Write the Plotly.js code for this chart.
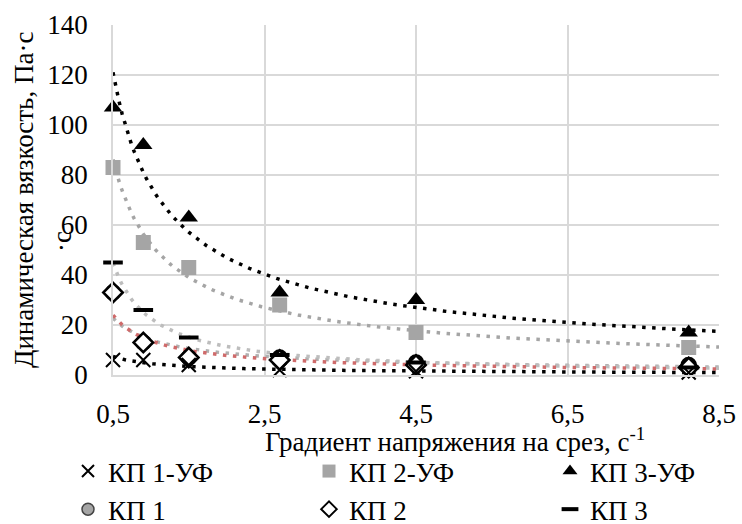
<!DOCTYPE html>
<html>
<head>
<meta charset="utf-8">
<script src="https://cdn.plot.ly/plotly-3.0.1.min.js"></script>
<style>
html,body{margin:0;padding:0;background:#fff;}
#chart{width:742px;height:524px;}
</style>
</head>
<body>
<div id="chart"></div>
<script>
// ---- data ----
var shearRate = [0.5, 0.9, 1.5, 2.7, 4.5, 8.1];
var kp1uf = [6, 6, 4, 2, 1.5, 1];
var kp2uf = [83, 53, 43, 28, 17, 11];
var kp3uf = [107, 92, 63, 33, 30, 17];
var kp1 = [33, 13, 7, 7, 5, 4];
var kp2 = [33, 13, 7, 6, 4, 3];
var kp3 = [45, 26, 15, 8, 5, 3];
var seriesNames = ["КП 1-УФ", "КП 2-УФ", "КП 3-УФ", "КП 1", "КП 2", "КП 3"];
var xTicks = [0.5, 2.5, 4.5, 6.5, 8.5];
var yTicks = [0, 20, 40, 60, 80, 100, 120, 140];

// ---- power trendline (least squares on log-log) ----
function powerFit(xs, ys) {
  var lx = xs.map(Math.log), ly = ys.map(Math.log);
  var n = xs.length, mx = 0, my = 0;
  for (var i = 0; i < n; i++) { mx += lx[i]; my += ly[i]; }
  mx /= n; my /= n;
  var sxy = 0, sxx = 0;
  for (var j = 0; j < n; j++) { sxy += (lx[j]-mx)*(ly[j]-my); sxx += (lx[j]-mx)*(lx[j]-mx); }
  var b = sxy / sxx, a = Math.exp(my - b*mx);
  var tx = [], ty = [];
  var x0 = xTicks[0], x1 = xTicks[xTicks.length-1];
  for (var k = 0; k <= 200; k++) { var x = x0 + (x1-x0)*k/200; tx.push(x); ty.push(a*Math.pow(x, b)); }
  return {x: tx, y: ty};
}

var GREY = '#a5a5a5';
var ser = [kp1uf, kp2uf, kp3uf, kp1, kp2, kp3];
var trendColors = ['#000000', GREY, '#000000', '#b0b0b0', '#cf6a6a', '#bdbdbd'];
var markers = [
  {symbol: 'x-thin-open', size: 14, color: '#000', line: {color: '#000', width: 2}},
  {symbol: 'square', size: 15, color: GREY, line: {width: 0}},
  {symbol: 'triangle-up', size: 16, color: '#000', line: {width: 0}},
  {symbol: 'circle', size: 14, color: GREY, line: {color: '#000', width: 2.5}},
  {symbol: 'diamond', size: 15, color: '#fff', line: {color: '#000', width: 2.5}},
  {symbol: 'line-ew-open', size: 14, color: '#000', line: {color: '#000', width: 4}}
];
var legendMarkers = [
  {symbol: 'x-thin-open', size: 12, color: '#000', line: {color: '#000', width: 2}},
  {symbol: 'square', size: 13, color: GREY, line: {width: 0}},
  {symbol: 'triangle-up', size: 13, color: '#000', line: {width: 0}},
  {symbol: 'circle', size: 12, color: GREY, line: {color: '#444', width: 1.5}},
  {symbol: 'diamond', size: 12, color: '#fff', line: {color: '#000', width: 2}},
  {symbol: 'line-ew-open', size: 12, color: '#000', line: {color: '#000', width: 4}}
];

var traces = [];
var order = [3, 4, 5, 0, 1, 2];
order.forEach(function (i) {
  var f = powerFit(shearRate, ser[i]);
  traces.push({x: f.x, y: f.y, type: 'scatter', mode: 'lines', showlegend: false, hoverinfo: 'skip',
    line: {color: trendColors[i], width: 3.5, dash: '3.5px,6.5px'}});
});
order.forEach(function (i) {
  traces.push({x: shearRate, y: ser[i], type: 'scatter', mode: 'markers', showlegend: false,
    cliponaxis: false, marker: markers[i], name: seriesNames[i]});
});
for (var i = 0; i < 6; i++) {
  traces.push({x: [null], y: [null], type: 'scatter', mode: 'markers', name: seriesNames[i],
    marker: legendMarkers[i], showlegend: true});
}

var FAM = 'Liberation Serif';
var FS = 27;
function F() { return {family: FAM, size: FS, color: '#000000'}; }
var layout = {
  width: 742, height: 524,
  paper_bgcolor: '#fff', plot_bgcolor: '#fff',
  margin: {l: 113, r: 23, t: 25, b: 149, autoexpand: false},
  font: F(),
  showlegend: true,
  xaxis: {range: [0.5, 8.5], tickvals: xTicks, ticktext: xTicks.map(function(v){return String(v).replace('.', ',');}),
    showgrid: true, gridcolor: '#d9d9d9', gridwidth: 1.5, zeroline: false,
    showline: true, linecolor: '#d9d9d9', linewidth: 1.5, ticks: 'outside', ticklen: 14, tickcolor: 'rgba(0,0,0,0)',
    tickfont: F(), automargin: false},
  yaxis: {range: [0, 140], tickvals: yTicks, showgrid: true, gridcolor: '#d9d9d9', gridwidth: 1.5,
    zeroline: false, showline: true, linecolor: '#d9d9d9', linewidth: 1.5, ticks: 'outside', ticklen: 18,
    tickcolor: 'rgba(0,0,0,0)', tickfont: F(), automargin: false},
  legend: {orientation: 'h', xref: 'paper', yref: 'paper', x: (68-113)/606, y: (375-447)/350, xanchor: 'left', yanchor: 'top',
    entrywidth: 196, entrywidthmode: 'pixels', font: F(), tracegroupgap: 0, itemsizing: 'trace',
    bgcolor: 'rgba(0,0,0,0)'},
  annotations: [
    {text: 'Динамическая вязкость, Па·с', xref: 'paper', yref: 'paper', x: (24-113)/606, y: 0.5,
      xanchor: 'center', yanchor: 'middle', textangle: -90, showarrow: false, font: F()},
    {text: '·с', xref: 'paper', yref: 'paper', x: (62-113)/606, y: (375-242)/350,
      xanchor: 'center', yanchor: 'middle', textangle: -90, showarrow: false, font: F()},
    {text: 'Градиент напряжения на срез, с<sup>-1</sup>', xref: 'paper', yref: 'paper', x: (455-113)/606, y: (375-440)/350,
      xanchor: 'center', yanchor: 'middle', showarrow: false, font: F()}
  ]
};

Plotly.newPlot('chart', traces, layout, {displayModeBar: false});
</script>
</body>
</html>
